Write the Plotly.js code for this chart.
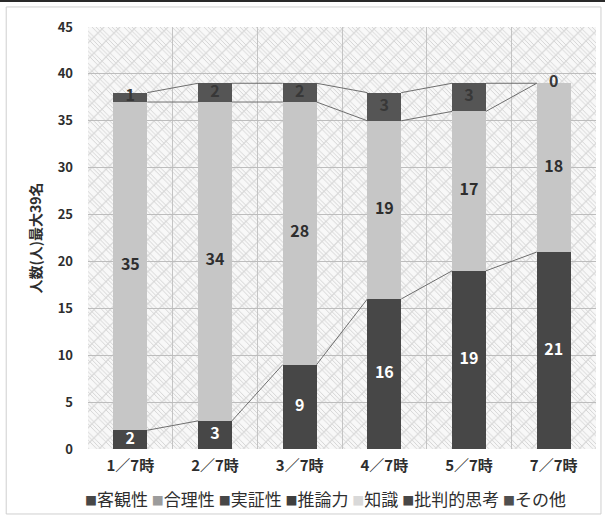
<!DOCTYPE html>
<html>
<head>
<meta charset="utf-8">
<script src="https://cdn.plot.ly/plotly-3.0.1.min.js"></script>
<style>
  html, body { margin: 0; padding: 0; background: #ffffff; }
  #chart { width: 605px; height: 523px; }
</style>
</head>
<body>
<div id="chart"></div>
<script>
// Session labels along the x axis
const categories = ['1／7時', '2／7時', '3／7時', '4／7時', '5／7時', '7／7時'];

// Answer categories (legend order) and their swatch colours
const seriesNames = ['客観性', '合理性', '実証性', '推論力', '知識', '批判的思考', 'その他'];
const seriesColors = ['#474747', '#9c9c9c', '#474747', '#3f3f3f', '#d9d9d9', '#474747', '#4f4f4f'];

// Counts per session (people, max 39)
const reasoningCounts = [2, 3, 9, 16, 19, 21];     // 推論力
const knowledgeCounts = [35, 34, 28, 19, 17, 18];  // 知識
const otherCounts = [1, 2, 2, 3, 3, 0];            // その他

const yTickValues = [0, 5, 10, 15, 20, 25, 30, 35, 40, 45];
const yTitle = '人数(人)最大39名';

const FONT = 'Noto Sans CJK JP, Noto Sans, sans-serif';
const BAR_W = 0.4;
const xs = categories.map((_, i) => i);

// running tops of each stacked segment
const topReasoning = reasoningCounts.slice();
const topKnowledge = reasoningCounts.map((v, i) => v + knowledgeCounts[i]);
const topOther = topKnowledge.map((v, i) => v + otherCounts[i]);

// Excel-style series lines joining segment tops between neighbouring bars
function seriesLine(levels) {
  const x = [], y = [];
  for (let i = 0; i < levels.length - 1; i++) {
    x.push(i + BAR_W / 2, i + 1 - BAR_W / 2, null);
    y.push(levels[i], levels[i + 1], null);
  }
  return {
    type: 'scatter', mode: 'lines', x, y, hoverinfo: 'skip', showlegend: false,
    line: { color: '#6e6e6e', width: 1 }
  };
}

// value label centred in a stacked segment
function segmentLabels(values, bases, color) {
  return {
    type: 'scatter', mode: 'text', x: xs,
    y: values.map((v, i) => bases[i] + v / 2),
    text: values.map(String),
    textfont: { family: FONT, size: 16, color, weight: 'bold' },
    showlegend: false, hoverinfo: 'skip', cliponaxis: false
  };
}

const zeros = xs.map(() => 0);

const traces = [
  {
    type: 'bar', name: seriesNames[3], x: xs, y: reasoningCounts, width: BAR_W,
    marker: { color: '#474747', line: { width: 0 } },
    showlegend: false, hoverinfo: 'skip'
  },
  {
    type: 'bar', name: seriesNames[4], x: xs, y: knowledgeCounts, width: BAR_W,
    marker: { color: '#c6c6c6', line: { width: 0 } },
    showlegend: false, hoverinfo: 'skip'
  },
  {
    type: 'bar', name: seriesNames[6], x: xs, y: otherCounts, width: BAR_W,
    marker: { color: '#555555', line: { width: 0 } },
    showlegend: false, hoverinfo: 'skip'
  },
  seriesLine(topReasoning),
  seriesLine(topKnowledge),
  seriesLine(topOther),
  segmentLabels(reasoningCounts, zeros, '#ffffff'),
  segmentLabels(knowledgeCounts, topReasoning, '#2e2e2e'),
  segmentLabels(otherCounts, topKnowledge, '#383838')
];

// hatched plot-area fill
const bgSvg =
  '<svg xmlns="http://www.w3.org/2000/svg" width="508" height="421">' +
  '<defs><pattern id="h" width="16" height="16" patternUnits="userSpaceOnUse">' +
  '<rect width="16" height="16" fill="#f8f8f8"/>' +
  '<path d="M-4,0 L16,20 M0,-4 L20,16 M-4,4 L12,20 M4,-4 L20,12 M-4,8 L8,20 M8,-4 L20,8" stroke="#cdcdcd" stroke-width="0.8"/>' +
  '<path d="M0,16 L16,0 M-8,8 L8,-8 M8,24 L24,8" stroke="#dadada" stroke-width="1.2"/>' +
  '</pattern></defs>' +
  '<rect width="508" height="421" fill="url(#h)"/></svg>';

// legend line built as one text row of coloured squares + names
const legendText = seriesNames.map((n, i) =>
  '<span style="color:' + seriesColors[i] + ';font-size:12px">■</span>' + n
).join(' ');

const layout = {
  width: 605, height: 523,
  margin: { l: 88, r: 9, t: 27, b: 74 },
  paper_bgcolor: '#ffffff',
  plot_bgcolor: 'rgba(0,0,0,0)',
  barmode: 'stack',
  showlegend: false,
  font: { family: FONT, color: '#333333' },
  xaxis: {
    range: [-0.5, 5.5],
    tickvals: xs, ticktext: categories,
    tickfont: { family: FONT, size: 15, color: '#2e2e2e', weight: 'bold' },
    showgrid: false, zeroline: false, showline: false, ticks: '',
    ticklabelstandoff: 6,
    minor: { tickvals: [0.5, 1.5, 2.5, 3.5, 4.5], showgrid: true, gridcolor: '#c4c4c4', gridwidth: 1, ticks: '' }
  },
  yaxis: {
    range: [0, 45],
    tickvals: yTickValues,
    tickfont: { family: FONT, size: 13, color: '#2e2e2e', weight: 'bold' },
    showgrid: true, gridcolor: '#bdbdbd', gridwidth: 1,
    zeroline: false, showline: false, ticks: '',
    ticklabelstandoff: 14,
    title: { text: yTitle, font: { family: FONT, size: 14, color: '#2e2e2e', weight: 'bold' }, standoff: 12 }
  },
  images: [{
    source: 'data:image/svg+xml;base64,' + btoa(bgSvg),
    xref: 'paper', yref: 'paper', x: 0, y: 1, sizex: 1, sizey: 1,
    sizing: 'stretch', layer: 'below', xanchor: 'left', yanchor: 'top'
  }],
  annotations: [{
    xref: 'paper', yref: 'paper', x: 0.468, y: 0, yshift: -49,
    xanchor: 'center', yanchor: 'middle', showarrow: false,
    text: legendText,
    font: { family: FONT, size: 17, color: '#2e2e2e' }
  }],
  shapes: [
    // outer chart frame
    { type: 'rect', xref: 'paper', yref: 'paper', x0: -0.161, x1: 1.0098, y0: -0.154, y1: 1.0475,
      line: { color: '#cfcfcf', width: 1 }, fillcolor: 'rgba(0,0,0,0)', layer: 'below' },
    // dark strip at the top edge
    { type: 'rect', xref: 'paper', yref: 'paper', x0: -0.2, x1: 1.1, y0: 1.059, y1: 1.07,
      line: { width: 0 }, fillcolor: '#2a2a2a' }
  ]
};

Plotly.newPlot('chart', traces, layout, { displayModeBar: false, staticPlot: true });
</script>
</body>
</html>
